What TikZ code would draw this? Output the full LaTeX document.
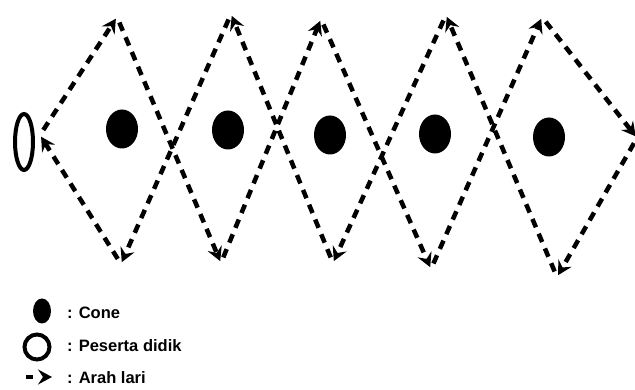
\documentclass[tikz,border=0pt]{standalone}
\usepackage{fontspec}
\setmainfont{Liberation Sans}
\usetikzlibrary{shapes.geometric,arrows.meta}
\tikzset{
  cone/.style={ellipse, fill=black, minimum width=32pt, minimum height=39pt, inner sep=0pt},
  lari/.style={line width=4.5pt, dash pattern=on 9pt off 7pt,
    -{Stealth[length=14pt,width=15pt,inset=5pt]}, shorten <=6pt, shorten >=2pt},
  ket/.style={anchor=west, inner sep=0pt, font=\bfseries\fontsize{16.5}{18}\selectfont},
}
\begin{document}
\begin{tikzpicture}[x=1pt, y=-1pt]
    \useasboundingbox (0,0) rectangle (635,390);
    % titik belok lintasan
    \coordinate (L)  at (40,135);
    \coordinate (T1) at (117,17);
    \coordinate (T2) at (231,14);
    \coordinate (T3) at (321,19);
    \coordinate (T4) at (446,15);
    \coordinate (T5) at (542,17);
    \coordinate (R)  at (637,138);
    \coordinate (B1) at (121,264);
    \coordinate (B2) at (221,263);
    \coordinate (B3) at (333,263);
    \coordinate (B4) at (431,269);
    \coordinate (B5) at (557,277);
    % cone dan peserta didik
    \foreach \n/\x/\y in {1/122/129, 2/228/130, 3/330/135, 4/435/134, 5/549/137}{
        \node [cone] (cone\n) at (\x,\y) {};
    }
    \node [ellipse, draw, line width=4pt, minimum width=18pt, minimum height=56pt,
        inner sep=0pt] (peserta) at (24,142) {};
    % arah lari
    \foreach \a/\b in {L/T1, T1/B2, B2/T3, T3/B4, B4/T5, T5/R,
                       R/B5, B5/T4, T4/B3, B3/T2, T2/B1, B1/L}{
        \draw [lari] (\a) -- (\b);
    }
    % keterangan
    \node [ellipse, fill=black, minimum width=18pt, minimum height=25pt,
        inner sep=0pt] (ketcone) at (42,311) {};
    \node [circle, draw, line width=4pt, minimum size=25pt, inner sep=0pt]
        (ketpeserta) at (37,347) {};
    \coordinate (ketkiri) at (26,377);
    \coordinate (ketkanan) at (52,377);
    \draw [lari, dash pattern=on 7pt off 12pt, shorten <=0pt, shorten >=0pt]
        (ketkiri) -- (ketkanan);
    \node [ket] (tcone) at (67,313) {: Cone};
    \node [ket] (tpeserta) at (67,346) {: Peserta didik};
    \node [ket] (tlari) at (67,378) {: Arah lari};
\end{tikzpicture}
\end{document}
